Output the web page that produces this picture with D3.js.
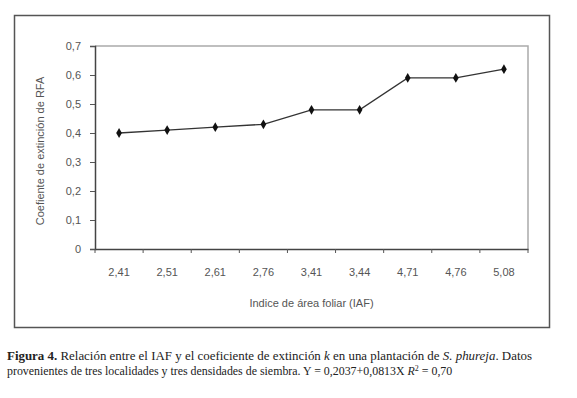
<!DOCTYPE html>
<html>
<head>
<meta charset="utf-8">
<script src="https://cdn.jsdelivr.net/npm/d3@7"></script>
<style>
  body { margin: 0; background: #fff; }
</style>
</head>
<body>
<div id="chart"></div>
<script>
// data
const iafLabels = ["2,41", "2,51", "2,61", "2,76", "3,41", "3,44", "4,71", "4,76", "5,08"];
const kValues = [0.40, 0.41, 0.42, 0.43, 0.48, 0.48, 0.59, 0.59, 0.62];
const yTicks = [0, 0.1, 0.2, 0.3, 0.4, 0.5, 0.6, 0.7];

const width = 577;
const height = 398;
const plot = { left: 95, right: 528, top: 46, bottom: 249 };

const svg = d3.select("#chart")
  .append("svg")
  .attr("width", width)
  .attr("height", height);

// outer frame of the chart
svg.append("rect")
  .attr("x", 14.5).attr("y", 15.5)
  .attr("width", 535).attr("height", 312)
  .attr("fill", "none")
  .attr("stroke", "#555")
  .attr("stroke-width", 1.5);

const x = d3.scaleBand()
  .domain(iafLabels)
  .range([plot.left, plot.right]);

const y = d3.scaleLinear()
  .domain([0, 0.7])
  .range([plot.bottom, plot.top]);

const fmt = d => d3.format(".1f")(d).replace(".", ",");

// light plot border (top and right)
svg.append("path")
  .attr("d", `M${plot.left},${plot.top}H${plot.right}V${plot.bottom}`)
  .attr("fill", "none")
  .attr("stroke", "#aaa")
  .attr("stroke-width", 1.5);

// y axis
const yAxis = svg.append("g")
  .attr("transform", `translate(${plot.left},0)`)
  .call(d3.axisLeft(y).tickValues(yTicks).tickSize(5).tickPadding(9)
    .tickFormat(d => d === 0 ? "0" : fmt(d)));

// x axis, ticks on the band edges
const xAxis = svg.append("g")
  .attr("transform", `translate(0,${plot.bottom})`)
  .call(d3.axisBottom(x).tickSize(0).tickPadding(19));

xAxis.selectAll(".edge")
  .data(d3.range(iafLabels.length + 1))
  .enter()
  .append("line")
  .attr("class", "edge")
  .attr("x1", i => plot.left + i * x.step())
  .attr("x2", i => plot.left + i * x.step())
  .attr("y1", 0).attr("y2", 4)
  .attr("stroke", "#555");

[yAxis, xAxis].forEach(g => {
  g.select(".domain").attr("stroke", "#444").attr("stroke-width", 1.5);
  g.selectAll(".tick line").attr("stroke", "#555");
  g.selectAll("text")
    .attr("fill", "#555")
    .style("font-family", "Liberation Sans, Arial, sans-serif")
    .style("font-size", "11px");
});

// axis titles
svg.append("text")
  .attr("x", (plot.left + plot.right) / 2)
  .attr("y", 307)
  .attr("text-anchor", "middle")
  .attr("fill", "#555")
  .style("font-family", "Liberation Sans, Arial, sans-serif")
  .style("font-size", "11px")
  .text("Indice de área foliar (IAF)");

svg.append("text")
  .attr("transform", "translate(44,151) rotate(-90)")
  .attr("text-anchor", "middle")
  .attr("fill", "#555")
  .style("font-family", "Liberation Sans, Arial, sans-serif")
  .style("font-size", "11px")
  .text("Coefiente de extinción de RFA");

// series
const line = d3.line()
  .x((d, i) => x(iafLabels[i]) + x.bandwidth() / 2)
  .y(d => y(d));

svg.append("path")
  .datum(kValues)
  .attr("d", line)
  .attr("fill", "none")
  .attr("stroke", "#333")
  .attr("stroke-width", 1.3);

svg.selectAll(".pt")
  .data(kValues)
  .enter()
  .append("path")
  .attr("class", "pt")
  .attr("d", d3.symbol().type(d3.symbolDiamond).size(28))
  .attr("transform", (d, i) => `translate(${x(iafLabels[i]) + x.bandwidth() / 2},${y(d)})`)
  .attr("fill", "#111");

// caption
const captionFont = "Liberation Serif, Times New Roman, serif";

const line1 = svg.append("text")
  .attr("x", 7).attr("y", 360)
  .attr("fill", "#222")
  .attr("textLength", 525).attr("lengthAdjust", "spacingAndGlyphs")
  .style("font-family", captionFont)
  .style("font-size", "12.5px");
line1.append("tspan").style("font-weight", "bold").text("Figura 4.");
line1.append("tspan").text(" Relación entre el IAF y el coeficiente de extinción ");
line1.append("tspan").style("font-style", "italic").text("k");
line1.append("tspan").text(" en una plantación de ");
line1.append("tspan").style("font-style", "italic").text("S. phureja");
line1.append("tspan").text(". Datos");

const line2 = svg.append("text")
  .attr("x", 7).attr("y", 375)
  .attr("fill", "#222")
  .style("font-family", captionFont)
  .style("font-size", "11.9px");
line2.append("tspan").text("provenientes de tres localidades y tres densidades de siembra. Y = 0,2037+0,0813X ");
line2.append("tspan").style("font-style", "italic").text("R");
line2.append("tspan").style("font-size", "8px").attr("baseline-shift", "super").text("2");
line2.append("tspan").text(" = 0,70");
</script>
</body>
</html>
